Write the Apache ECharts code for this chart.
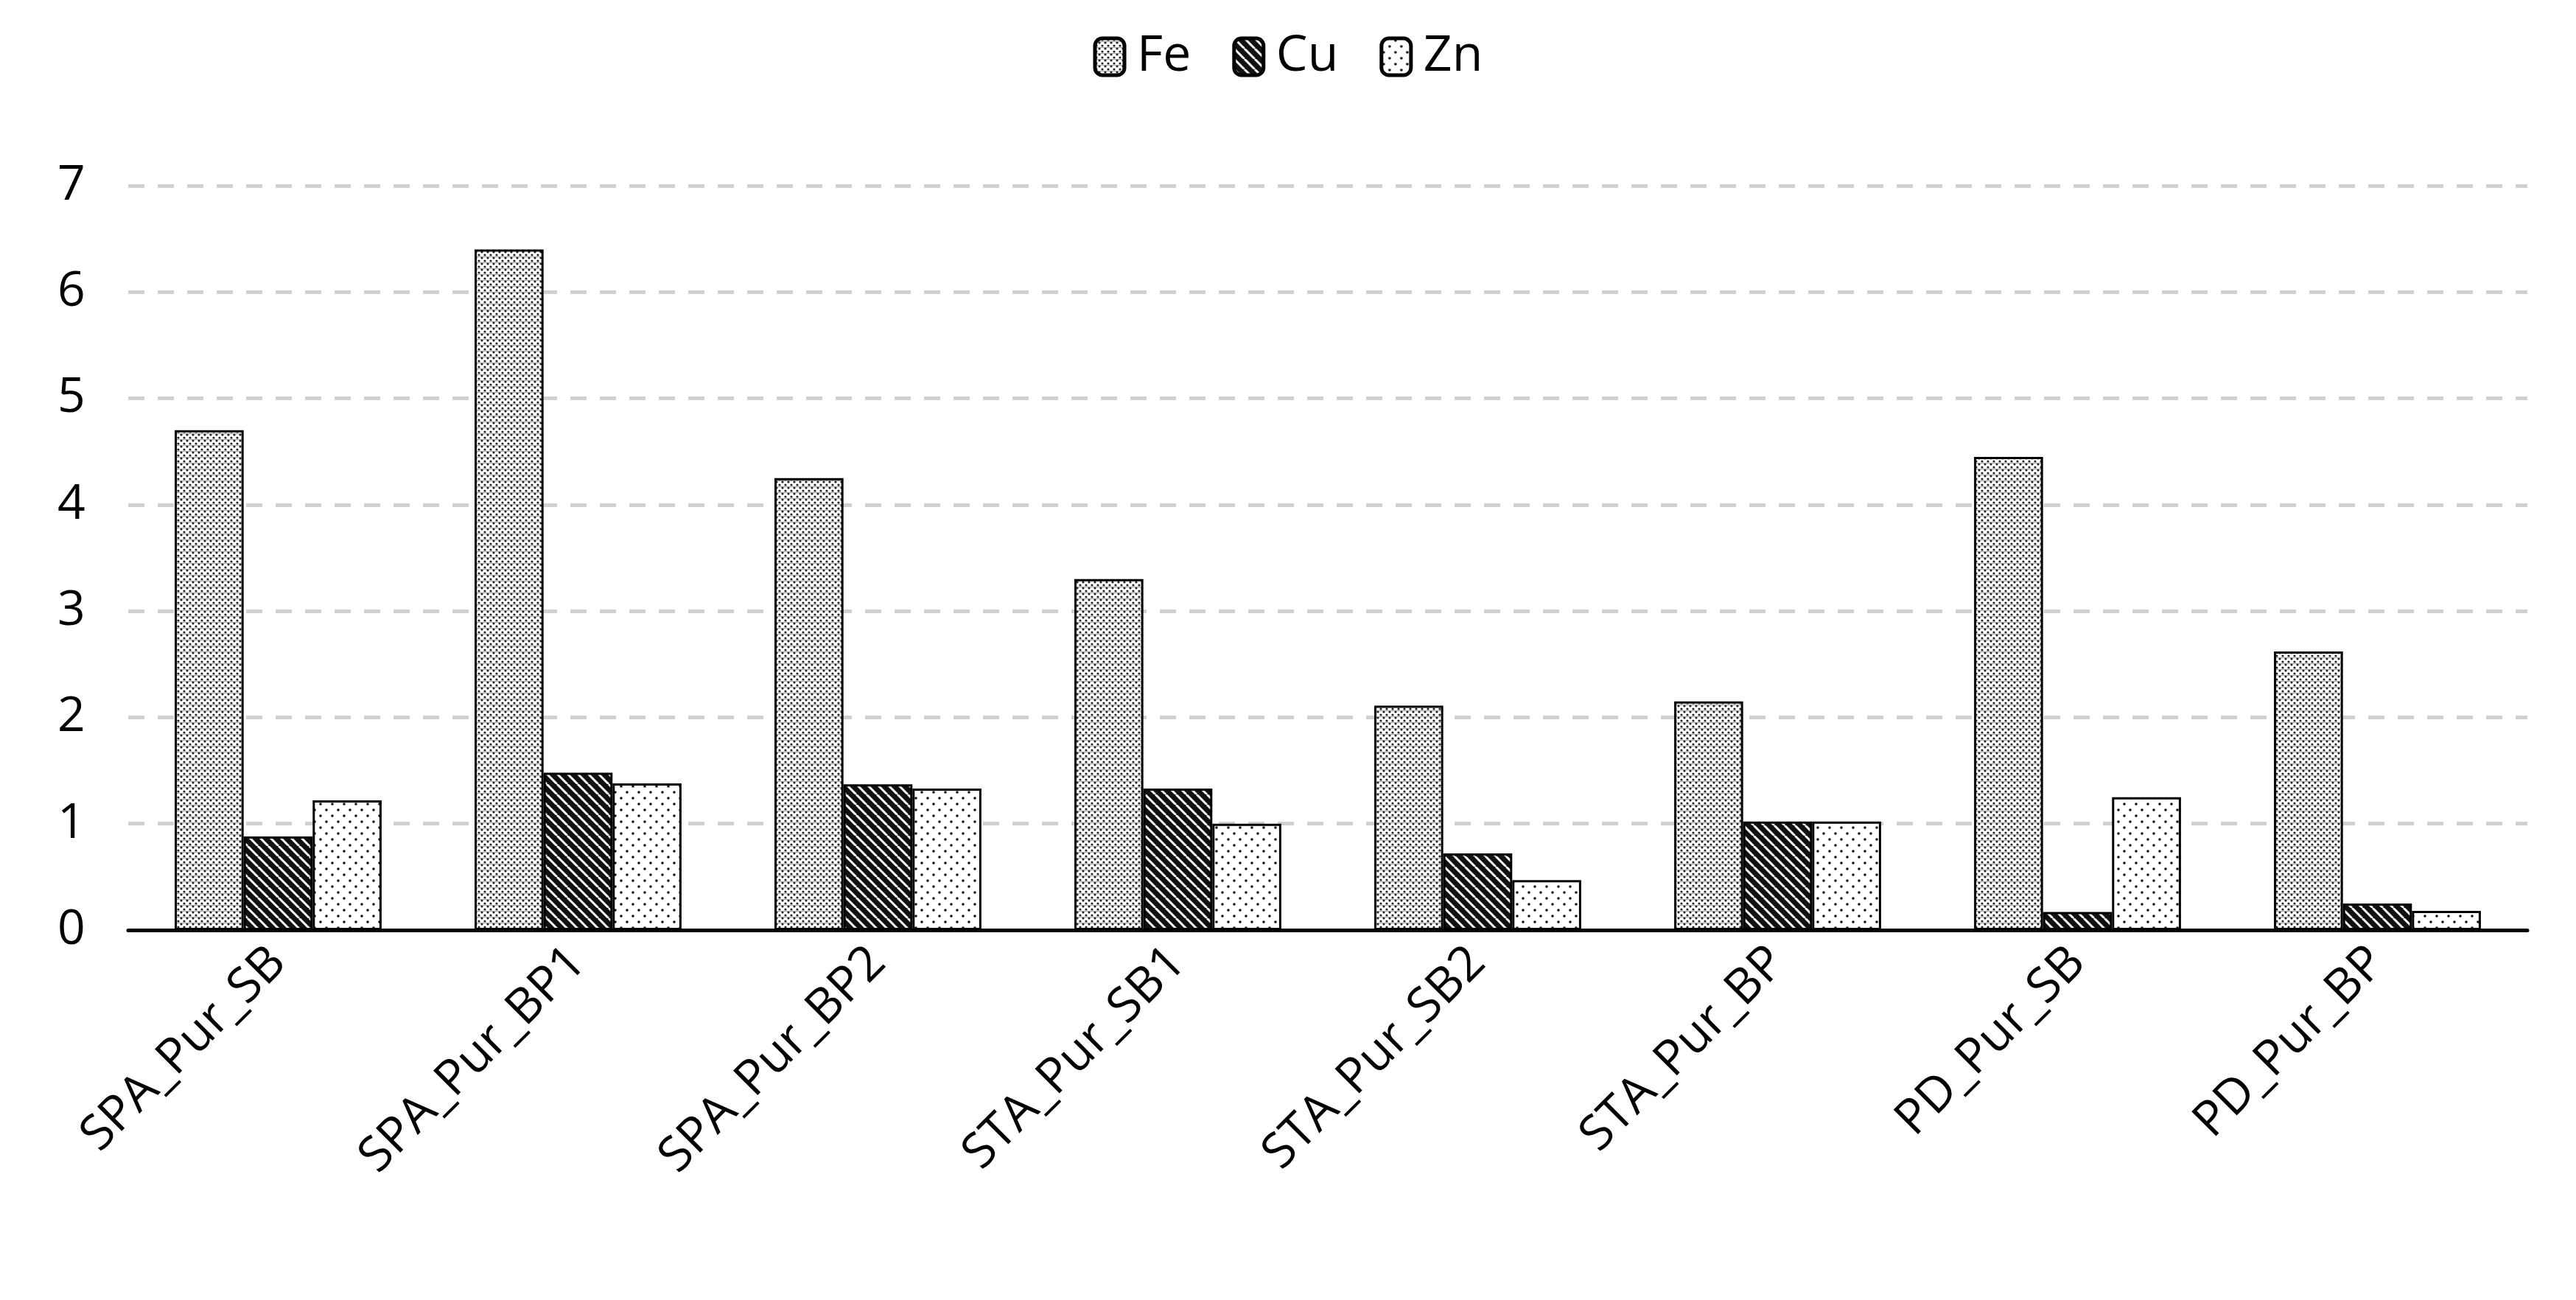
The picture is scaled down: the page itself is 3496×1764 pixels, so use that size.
<!DOCTYPE html>
<html><head><meta charset="utf-8">
<script src="https://cdn.jsdelivr.net/npm/echarts@6/dist/echarts.min.js"></script>
<style>html,body{margin:0;padding:0;background:#fff}#c{width:3496px;height:1764px}</style>
</head><body><div id="c"></div>
<script>
const categories = ['SPA_Pur_SB','SPA_Pur_BP1','SPA_Pur_BP2','STA_Pur_SB1','STA_Pur_SB2','STA_Pur_BP','PD_Pur_SB','PD_Pur_BP'];
const fe = [4.7, 6.4, 4.25, 3.3, 2.11, 2.15, 4.45, 2.62];
const cu = [0.88, 1.48, 1.37, 1.33, 0.72, 1.02, 0.17, 0.25];
const zn = [1.22, 1.38, 1.33, 1.0, 0.47, 1.02, 1.25, 0.18];
const yTicks = [0,1,2,3,4,5,6,7];

function pat(kind){
  const c = document.createElement('canvas');
  const ctx = c.getContext('2d');
  if(kind==='fe'){
    c.width=8;c.height=8;
    ctx.fillStyle='#fff';ctx.fillRect(0,0,8,8);
    ctx.fillStyle='#222';
    ctx.beginPath();ctx.arc(2,2,1.6,0,7);ctx.fill();
    ctx.beginPath();ctx.arc(6,6,1.6,0,7);ctx.fill();
    ctx.fillStyle='#888';ctx.fillRect(0,4,8,0.8);
  } else if(kind==='cu'){
    c.width=14;c.height=14;
    ctx.fillStyle='#111';ctx.fillRect(0,0,14,14);
    ctx.strokeStyle='#fff';ctx.lineWidth=3;
    for(let o=-14;o<=28;o+=14){ctx.beginPath();ctx.moveTo(o,0);ctx.lineTo(o+14,14);ctx.stroke();}
  } else {
    c.width=16;c.height=16;
    ctx.fillStyle='#fff';ctx.fillRect(0,0,16,16);
    ctx.fillStyle='#111';
    ctx.beginPath();ctx.arc(3,3,1.8,0,7);ctx.fill();
    ctx.beginPath();ctx.arc(11,11,1.8,0,7);ctx.fill();
  }
  return {image:c, repeat:'repeat'};
}
const st = k => ({color:pat(k), borderColor:'#000', borderWidth:3});
const chart = echarts.init(document.getElementById('c'));
chart.setOption({
  animation:false,
  legend:{top:38,left:'center',itemWidth:40,itemHeight:50,itemGap:56,
    textStyle:{fontFamily:'Open Sans',fontSize:68,color:'#000',padding:[0,0,0,12]},
    itemStyle:{borderColor:'#000',borderWidth:5},
    data:['Fe','Cu','Zn']},
  grid:{left:174,right:66,top:252,bottom:502},
  xAxis:{type:'category',data:categories,
    axisLine:{lineStyle:{color:'#000',width:5}},axisTick:{show:false},
    axisLabel:{rotate:45,interval:0,fontFamily:'Open Sans',fontSize:66,color:'#000',margin:34}},
  yAxis:{type:'value',min:0,max:7,interval:1,
    axisLine:{show:false},axisTick:{show:false},
    axisLabel:{fontFamily:'Open Sans',fontSize:66,color:'#000',margin:96,align:'left',formatter:v=>yTicks.includes(v)?String(v):''},
    splitLine:{lineStyle:{color:'#d0d0d0',width:5,type:[22,18]}}},
  series:[
    {name:'Fe',type:'bar',data:fe,itemStyle:st('fe'),barGap:'0%',barCategoryGap:'31%'},
    {name:'Cu',type:'bar',data:cu,itemStyle:st('cu')},
    {name:'Zn',type:'bar',data:zn,itemStyle:st('zn')}
  ]
});
</script></body></html>
